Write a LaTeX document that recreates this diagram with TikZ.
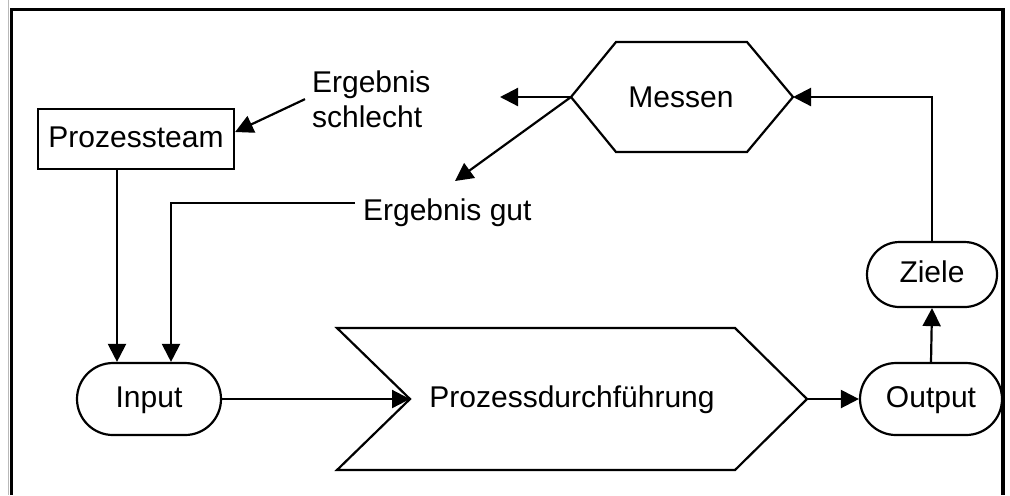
\documentclass[tikz,border=0pt]{standalone}
\usepackage{fontspec}
\setmainfont{Liberation Sans}
\usetikzlibrary{arrows.meta}
\begin{document}
\begin{tikzpicture}[x=0.5pt,y=-0.5pt, line width=1.1pt,
  font=\fontsize{15}{17.5}\selectfont,
  arr/.style={-{Triangle[length=9pt,width=9pt]}},
  term/.style={draw, rounded corners=18pt, minimum height=36pt, inner sep=0pt,
    text height=10.5pt, text depth=2.5pt},
  boxnode/.style={draw, inner sep=0pt, text height=10.5pt, text depth=2.5pt},
  lbl/.style={inner sep=0pt}]
\useasboundingbox (0,0) rectangle (1010,495);
% frame
\draw[gray!55, line width=0.6pt] (8.5,0) -- (8.5,495);
\draw[line width=1.6pt] (11.5,495) -- (11.5,9.5) -- (1003,9.5) -- (1003,495);
% nodes
\node[boxnode, minimum width=98pt, minimum height=30pt] (team) at (136,139) {Prozessteam};
\node[term, minimum width=72pt] (input) at (149,399) {Input};
\node[term, minimum width=71pt] (output) at (931,399) {Output};
\node[term, minimum width=65pt, minimum height=32.5pt, rounded corners=16.25pt] (ziele) at (932,274.5) {Ziele};
% hexagon
\draw (571,97) coordinate (mL) -- (616,42) -- (747,42) -- (793,97) coordinate (mR)
  -- (747,152) -- (616,152) -- cycle;
\node[lbl, anchor=base] (messen) at (681,107) {Messen};
% chevron
\draw (337,328) -- (735,328) -- (807,399) coordinate (pT) -- (735,470) -- (337,470)
  -- (410,399) coordinate (pN) -- cycle;
\node[lbl, anchor=base] (pd) at (572,407) {Prozessdurchführung};
% labels
\node[lbl, anchor=north west, align=left] (schlecht) at (311,69.5) {Ergebnis\\schlecht};
\node[lbl, anchor=base west] (gut) at (362,220) {Ergebnis gut};
\coordinate (leftEnd) at (500,97);
\coordinate (diagEnd) at (455,181);
% connectors
\draw[arr] (input.east) -- (pN);
\draw[arr] (pT) -- (output.west);
\draw[arr] (output.north) -- (ziele.south);
\draw[arr] (ziele.north) |- (mR);
\draw[arr] (mL) -- (leftEnd);
\draw[arr] (mL) -- (diagEnd);
\draw[arr] ([xshift=-3pt]schlecht.west) -- ([yshift=3.5pt]team.east);
\draw[arr] ([xshift=-3.5pt,yshift=4.5pt]gut.west) -| ([xshift=11pt]input.north);
\draw[arr] ([xshift=-16pt]input.north |- team.south) -- ([xshift=-16pt]input.north);
\end{tikzpicture}
\end{document}
